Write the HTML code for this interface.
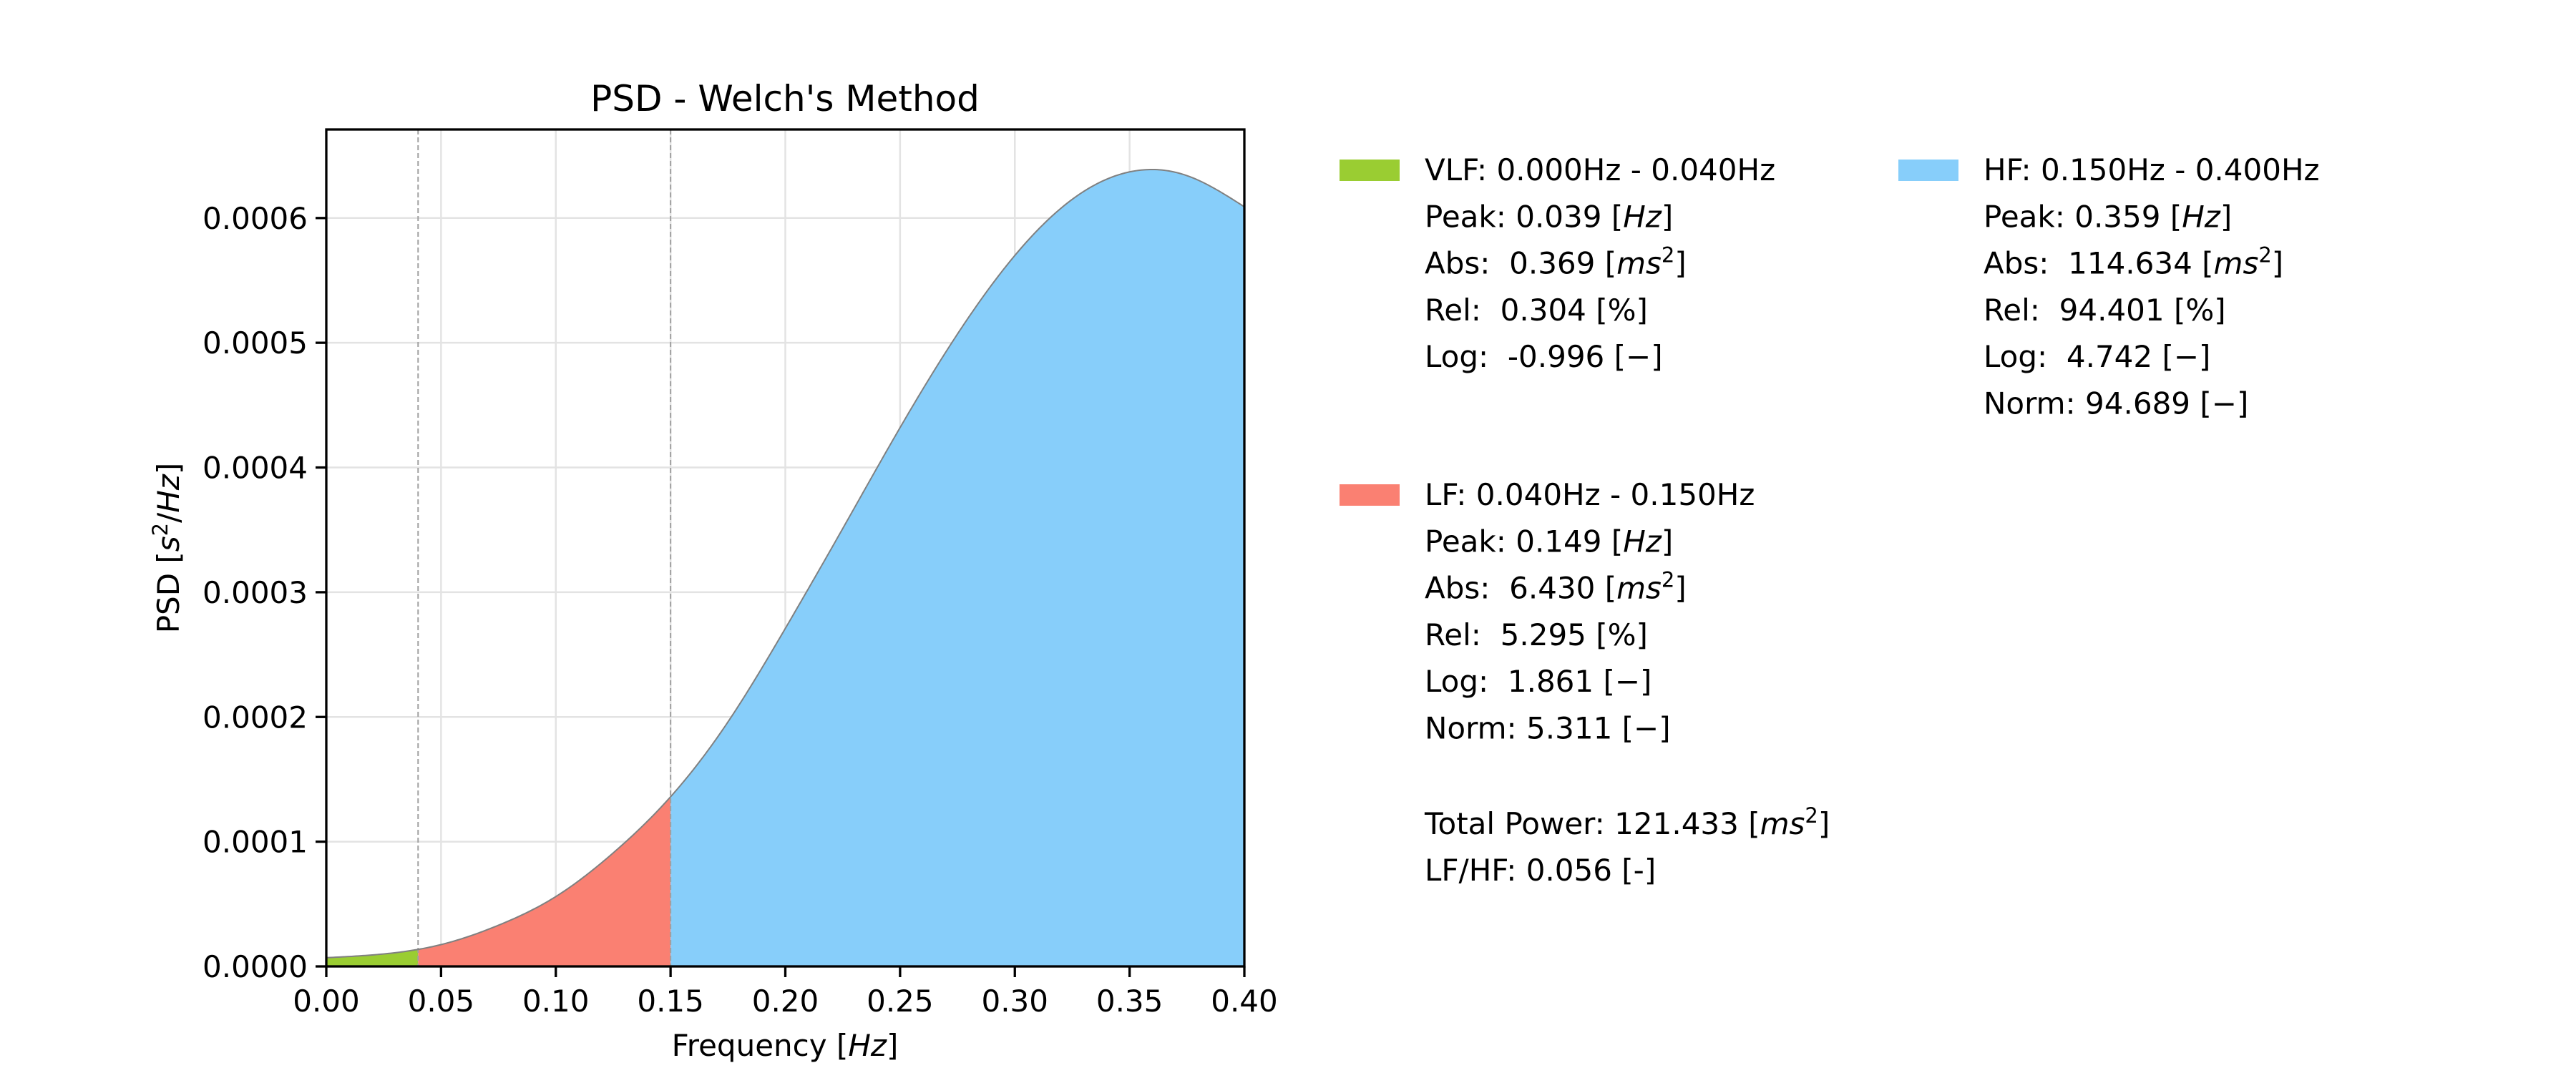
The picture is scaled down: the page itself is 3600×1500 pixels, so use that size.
<!DOCTYPE html>
<html><head><meta charset="utf-8"><style>
html,body{margin:0;padding:0;background:#fff;}
svg{display:block;font-family:"DejaVu Sans","Liberation Sans",sans-serif;}
#legend text{white-space:pre;}
</style></head><body>
<svg id="chart" width="3600" height="1500" viewBox="0 0 3600 1500" xmlns="http://www.w3.org/2000/svg">
<rect width="3600" height="1500" fill="#fff"/>
<g id="grid"></g>
<g id="areas"></g>
<g id="axes"></g>
<text x="1097" y="155" font-size="50" text-anchor="middle">PSD - Welch's Method</text>
<text x="1097" y="1476" font-size="42" text-anchor="middle">Frequency [<tspan font-style="italic">Hz</tspan>]</text>
<text transform="translate(250,766) rotate(-90)" font-size="42" text-anchor="middle">PSD [<tspan font-style="italic">s</tspan><tspan font-size="29" dy="-16">2</tspan><tspan dy="16">/</tspan><tspan font-style="italic">Hz</tspan>]</text>
<g id="legend" font-size="42" xml:space="preserve"></g>
</svg>
<script>
const freqs = [0,0.025,0.05,0.075,0.1,0.125,0.15,0.175,0.2,0.225,0.25,0.275,0.3,0.325,0.35,0.375,0.4];
const psd = [0.0000070,0.0000100,0.0000175,0.0000330,0.0000560,0.0000910,0.0001360,0.0001960,0.0002710,0.0003510,0.0004320,0.0005070,0.0005700,0.0006150,0.0006370,0.0006340,0.0006090];
const xTicks = [0,0.05,0.1,0.15,0.2,0.25,0.3,0.35,0.4];
const xTickLabels = ["0.00","0.05","0.10","0.15","0.20","0.25","0.30","0.35","0.40"];
const yTicks = [0,0.0001,0.0002,0.0003,0.0004,0.0005,0.0006];
const yTickLabels = ["0.0000","0.0001","0.0002","0.0003","0.0004","0.0005","0.0006"];
const bandNames = ["VLF","LF","HF"];
const bandEdges = [[0,0.04],[0.04,0.15],[0.15,0.4]];
const bandColors = ["#9acd32","#fa8072","#87cefa"];

const L=456,R=1739,T=181,B=1351,XMAX=0.4,YMAX=0.000671;
const sx=v=>L+(v/XMAX)*(R-L);
const sy=v=>B-(v/YMAX)*(B-T);
const NS="http://www.w3.org/2000/svg";
function mk(tag,attrs,parent){const e=document.createElementNS(NS,tag);for(const k in attrs)e.setAttribute(k,attrs[k]);parent.appendChild(e);return e;}

// natural cubic spline through data
const n=freqs.length;
const M=(function(){
  const h=[],a=[],b=[],c=[],d=[];
  for(let i=0;i<n-1;i++)h.push(freqs[i+1]-freqs[i]);
  const m=new Array(n).fill(0);
  const A=[],Bv=[],C=[],D=[];
  for(let i=1;i<n-1;i++){A.push(h[i-1]);Bv.push(2*(h[i-1]+h[i]));C.push(h[i]);D.push(6*((psd[i+1]-psd[i])/h[i]-(psd[i]-psd[i-1])/h[i-1]));}
  const k=A.length;
  for(let i=1;i<k;i++){const w=A[i]/Bv[i-1];Bv[i]-=w*C[i-1];D[i]-=w*D[i-1];}
  const x=new Array(k);
  x[k-1]=D[k-1]/Bv[k-1];
  for(let i=k-2;i>=0;i--)x[i]=(D[i]-C[i]*x[i+1])/Bv[i];
  for(let i=0;i<k;i++)m[i+1]=x[i];
  return m;
})();
function interp(f){
  let i=0;while(i<n-2&&f>freqs[i+1])i++;
  const h=freqs[i+1]-freqs[i],a=(freqs[i+1]-f)/h,b=(f-freqs[i])/h;
  return a*psd[i]+b*psd[i+1]+((a*a*a-a)*M[i]+(b*b*b-b)*M[i+1])*h*h/6;
}

const grid=document.getElementById('grid'),axes=document.getElementById('axes'),areas=document.getElementById('areas');
xTicks.forEach((v,i)=>{
  const g=mk('line',{x1:sx(v),x2:sx(v),y1:T,y2:B,stroke:'#e3e3e3','stroke-width':2.5},grid);
  
  
});
yTicks.forEach((v,i)=>{
  const g=mk('line',{x1:L,x2:R,y1:sy(v),y2:sy(v),stroke:'#e3e3e3','stroke-width':2.5},grid);
  
  
});
bandEdges.forEach((e,bi)=>{
  let d='M'+sx(e[0])+','+B;
  const N=150;
  for(let k=0;k<=N;k++){const f=e[0]+(e[1]-e[0])*k/N;d+=' L'+sx(f).toFixed(2)+','+sy(interp(f)).toFixed(2);}
  d+=' L'+sx(e[1])+','+B+' Z';
  const p=mk('path',{d:d,fill:bandColors[bi],stroke:'none'},areas);
  
  
});
[0.04,0.15].forEach(v=>{
  const l=mk('line',{x1:sx(v),x2:sx(v),y1:T,y2:B,stroke:'#a0a0a0','stroke-width':2,'stroke-dasharray':'7,4'},areas);
  
  
});
let cd='';
for(let k=0;k<=400;k++){const f=XMAX*k/400;cd+=(k?' L':'M')+sx(f).toFixed(2)+','+sy(interp(f)).toFixed(2);}
const curve=mk('path',{d:cd,fill:'none',stroke:'#808080','stroke-width':2},areas);



const frame=mk('rect',{x:L,y:T,width:R-L,height:B-T,fill:'none',stroke:'#000','stroke-width':3.3},axes);


xTicks.forEach((v,i)=>{
  const t=mk('line',{x1:sx(v),x2:sx(v),y1:B,y2:B+15,stroke:'#000','stroke-width':3.3},axes);
  
  
  const tx=mk('text',{x:sx(v),y:B+63,'font-size':42,'text-anchor':'middle'},axes);
  tx.textContent=xTickLabels[i];
  
  
});
yTicks.forEach((v,i)=>{
  const t=mk('line',{x1:L-15,x2:L,y1:sy(v),y2:sy(v),stroke:'#000','stroke-width':3.3},axes);
  
  
  const tx=mk('text',{x:L-26,y:sy(v)+15,'font-size':42,'text-anchor':'end'},axes);
  tx.textContent=yTickLabels[i];
  
  
});

// legend
const lg=document.getElementById('legend');
function patch(x,y,c,name){const r=mk('rect',{x:x,y:y,width:84,height:30,fill:c},lg);}
function line(x,y,html,name){const t=mk('text',{x:x,y:y+15},lg);t.setAttributeNS('http://www.w3.org/XML/1998/namespace','xml:space','preserve');t.innerHTML=html;}
const hz='[<tspan font-style="italic">Hz</tspan>]';
const ms='[<tspan font-style="italic">ms</tspan><tspan font-size="29" dy="-16">2</tspan><tspan dy="16">]</tspan>';
const S=65.3;
patch(1872,223,bandColors[0],'legend-patch-vlf');
let y=237;
line(1991,y,'VLF: 0.000Hz - 0.040Hz','legend-vlf-title');
line(1991,y+S,'Peak: 0.039 '+hz,'legend-vlf-peak');
line(1991,y+2*S,'Abs:  0.369 '+ms,'legend-vlf-abs');
line(1991,y+3*S,'Rel:  0.304 [%]','legend-vlf-rel');
line(1991,y+4*S,'Log:  -0.996 [\u2212]','legend-vlf-log');
patch(2653,223,bandColors[2],'legend-patch-hf');
line(2772,y,'HF: 0.150Hz - 0.400Hz','legend-hf-title');
line(2772,y+S,'Peak: 0.359 '+hz,'legend-hf-peak');
line(2772,y+2*S,'Abs:  114.634 '+ms,'legend-hf-abs');
line(2772,y+3*S,'Rel:  94.401 [%]','legend-hf-rel');
line(2772,y+4*S,'Log:  4.742 [\u2212]','legend-hf-log');
line(2772,y+5*S,'Norm: 94.689 [\u2212]','legend-hf-norm');
y=691;
patch(1872,677,bandColors[1],'legend-patch-lf');
line(1991,y,'LF: 0.040Hz - 0.150Hz','legend-lf-title');
line(1991,y+S,'Peak: 0.149 '+hz,'legend-lf-peak');
line(1991,y+2*S,'Abs:  6.430 '+ms,'legend-lf-abs');
line(1991,y+3*S,'Rel:  5.295 [%]','legend-lf-rel');
line(1991,y+4*S,'Log:  1.861 [\u2212]','legend-lf-log');
line(1991,y+5*S,'Norm: 5.311 [\u2212]','legend-lf-norm');
line(1991,1151,'Total Power: 121.433 '+ms,'legend-total-power');
line(1991,1216,'LF/HF: 0.056 [-]','legend-lf-hf-ratio');
</script>
</body></html>
